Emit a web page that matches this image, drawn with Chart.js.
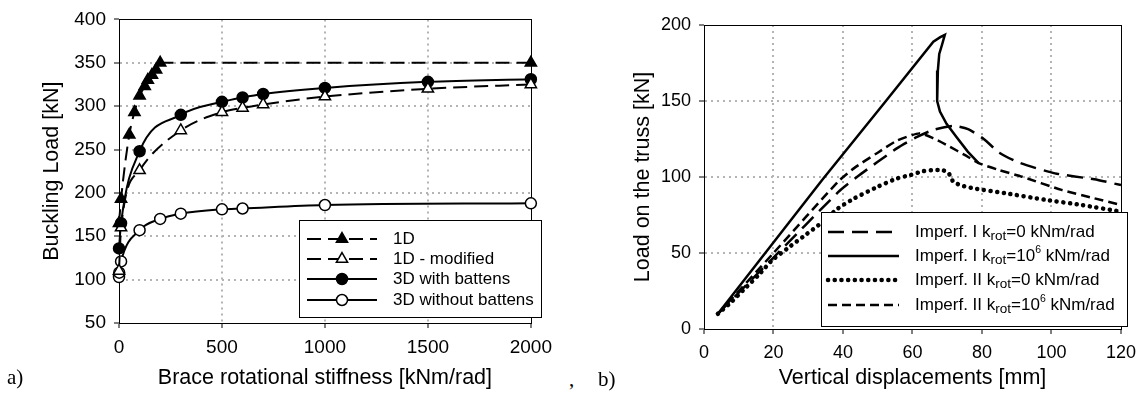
<!DOCTYPE html>
<html>
<head>
<meta charset="utf-8">
<script src="https://cdn.jsdelivr.net/npm/chart.js@4/dist/chart.umd.min.js"></script>
<style>
  html, body { margin: 0; padding: 0; background: #fff; }
  #wrap { position: relative; width: 1144px; height: 401px; overflow: hidden; }
  canvas { position: absolute; top: 0; }
  #cA { left: 0; }
  #cB { left: 580px; }
  .lbl { position: absolute; font-family: "Liberation Serif", "Times New Roman", serif; font-size: 21px; color: #000; line-height: 1; }
</style>
</head>
<body>
<div id="wrap">
  <canvas id="cA" width="560" height="401" style="width:560px;height:401px"></canvas>
  <canvas id="cB" width="564" height="401" style="width:564px;height:401px"></canvas>
  <div class="lbl" style="left:7px;top:367px">a)</div>
  <div class="lbl" style="left:569px;top:369px">,</div>
  <div class="lbl" style="left:598px;top:369px">b)</div>
</div>
<script>
/* ==========================================
   DATA — a) buckling load vs brace stiffness
   ========================================== */
const k1D         = [0, 10, 50, 75, 100, 125, 140, 160, 180, 200, 2000];
const load1D      = [165, 193, 267, 293, 312, 323, 330, 336, 342, 350, 350];
const k1Dmod      = [0, 10, 100, 300, 500, 600, 700, 1000, 1500, 2000];
const load1Dmod   = [110, 160, 226, 272, 293, 298, 302, 311, 320, 325];
const k3Dbat      = [0, 10, 100, 300, 500, 600, 700, 1000, 1500, 2000];
const load3Dbat   = [136, 165, 248, 290, 305, 310, 314, 321, 328, 331];
const k3Dnobat    = [0, 1, 10, 100, 200, 300, 500, 600, 1000, 2000];
const load3Dnobat = [103, 108, 121, 157, 170, 176, 181, 182, 186, 188];

/* ==========================================
   DATA — b) load vs vertical displacement
   ========================================== */
const dispIk0   = [4, 20, 38.6, 44, 50, 55.6, 61, 66, 72, 76, 80.5, 85, 90.6, 101, 112.3, 120];
const loadIk0   = [10, 47, 90, 100, 110, 119, 126, 131, 133.6, 131.5, 125, 116, 109.5, 102.4, 98.5, 94.7];
const dispIk6   = [4, 34, 52, 66, 68, 69.3, 68.5, 67.7, 67.3, 67.1, 67.1, 67.9, 69.8, 72.6, 75.9, 79.1];
const loadIk6   = [10, 98, 149, 189, 192, 193.5, 187, 181, 170, 160, 150, 143, 135, 126.5, 116.7, 109];
const dispIIk0  = [4, 8, 11.5, 15.7, 19.5, 24, 28.5, 33, 38.6, 43.3, 50, 55.6, 59.4, 63, 66, 68.5, 70.3, 71.7, 74, 77.4, 86.8, 98.2, 108.6, 120];
const loadIIk0  = [10, 18, 26, 35.5, 45, 53, 60.7, 68.4, 79.4, 86, 93.6, 99.1, 101.3, 103.8, 104.6, 104.5, 102.9, 97, 94.5, 92.6, 89.3, 85, 81.6, 77.2];
const dispIIk6  = [4, 20, 38.6, 43.3, 50, 55.6, 62, 66, 70.7, 75, 79.2, 85, 91.5, 102.9, 112.3, 120];
const loadIIk6  = [10, 50, 97, 106, 116, 124, 128.7, 125.5, 120, 114.5, 109, 104.5, 100.2, 91.5, 86, 81.6];

/* ==========================================
   HELPERS
   ========================================== */
const FONT = '"Liberation Sans", Arial, sans-serif';
Chart.defaults.font.family = FONT;
Chart.defaults.color = '#000';

const pts = (xs, ys) => xs.map((x, i) => ({ x, y: ys[i] }));

function axis(min, max, step, title, titlePad, fixedSize, isX, tickSize) {
  return {
    type: 'linear',
    min, max,
    ticks: { stepSize: step, font: { size: tickSize }, padding: 8, color: '#000', callback: v => String(v) },
    grid: {
      color: ctx => (ctx.tick && (ctx.tick.value === min || ctx.tick.value === max)) ? 'rgba(0,0,0,0)' : '#b4b4b4',
      lineWidth: 2,
      tickColor: '#000',
      tickLength: 5,
      tickWidth: 1,
      tickBorderDash: [1, 0]
    },
    border: { display: true, color: '#000', width: 1, dash: [2, 4] },
    title: { display: true, text: title, font: { size: 21.5 }, color: '#000', padding: titlePad },
    afterFit: s => { if (isX) s.height = fixedSize; else s.width = fixedSize; }
  };
}

// black frame round the plot area
const framePlugin = {
  id: 'frame',
  beforeDatasetsDraw(chart) {
    const { ctx, chartArea: a } = chart;
    ctx.save();
    ctx.strokeStyle = '#000';
    ctx.lineWidth = 1;
    ctx.strokeRect(Math.round(a.left) + 0.5, Math.round(a.top) + 0.5,
                   Math.round(a.right - a.left), Math.round(a.bottom - a.top));
    ctx.restore();
  }
};

// boxed legend drawn with the dataset styles
const boxLegend = {
  id: 'boxLegend',
  afterDraw(chart, args, o) {
    const { ctx } = chart;
    ctx.save();
    ctx.fillStyle = '#fff';
    ctx.fillRect(o.x, o.y, o.w, o.h);
    ctx.strokeStyle = '#000';
    ctx.lineWidth = 1;
    ctx.strokeRect(o.x + 0.5, o.y + 0.5, o.w, o.h);
    o.rows.forEach(row => {
      const ds = chart.data.datasets[row.ds];
      ctx.save();
      ctx.setLineDash(ds.borderDash || []);
      ctx.lineCap = ds.borderCapStyle || 'butt';
      ctx.lineWidth = ds.borderWidth;
      ctx.strokeStyle = ds.borderColor;
      ctx.beginPath();
      ctx.moveTo(o.lineX0, row.y);
      ctx.lineTo(o.lineX1, row.y);
      ctx.stroke();
      ctx.restore();
      if (ds.pointRadius) {
        ctx.save();
        ctx.setLineDash([]);
        ctx.fillStyle = ds.pointBackgroundColor;
        ctx.strokeStyle = ds.pointBorderColor;
        ctx.lineWidth = ds.pointBorderWidth;
        Chart.helpers.drawPoint(ctx, { pointStyle: ds.pointStyle, radius: ds.pointRadius, borderWidth: ds.pointBorderWidth, rotation: 0 },
          (o.lineX0 + o.lineX1) / 2, row.y);
        ctx.restore();
      }
      let tx = o.textX;
      ctx.fillStyle = '#000';
      ctx.textBaseline = 'middle';
      ctx.textAlign = 'left';
      row.text.forEach(seg => {
        const size = seg.sub ? 13.5 : seg.sup ? 10.5 : o.fontSize;
        const dy = seg.sub ? 4.5 : seg.sup ? -6 : 0;
        ctx.font = `${size}px ${FONT}`;
        ctx.fillText(seg.t, tx, row.y + dy);
        tx += ctx.measureText(seg.t).width;
      });
    });
    ctx.restore();
  }
};

/* ==========================================
   CHART a)
   ========================================== */
const lineA = { borderColor: '#000', borderWidth: 2, showLine: true, cubicInterpolationMode: 'monotone', pointBorderColor: '#000', pointBorderWidth: 1.5, clip: false };

new Chart(document.getElementById('cA'), {
  type: 'scatter',
  data: {
    datasets: [
      { ...lineA, label: '1D', data: pts(k1D, load1D), borderDash: [14, 7],
        pointStyle: 'triangle', pointRadius: 6.5, pointBackgroundColor: '#000' },
      { ...lineA, label: '1D - modified', data: pts(k1Dmod, load1Dmod), borderDash: [14, 7],
        pointStyle: 'triangle', pointRadius: 6.5, pointBackgroundColor: '#fff' },
      { ...lineA, label: '3D with battens', data: pts(k3Dbat, load3Dbat),
        pointStyle: 'circle', pointRadius: 5.5, pointBackgroundColor: '#000' },
      { ...lineA, label: '3D without battens', data: pts(k3Dnobat, load3Dnobat),
        pointStyle: 'circle', pointRadius: 5.5, pointBackgroundColor: '#fff' }
    ]
  },
  options: {
    responsive: false,
    animation: false,
    layout: { padding: { left: 0, top: 15, right: 17, bottom: 0 } },
    plugins: {
      legend: { display: false },
      tooltip: { enabled: false },
      boxLegend: {
        x: 299, y: 220, w: 242, h: 97, lineX0: 307, lineX1: 377, textX: 393, fontSize: 17,
        rows: [
          { ds: 0, y: 239, text: [{ t: '1D' }] },
          { ds: 1, y: 259, text: [{ t: '1D - modified' }] },
          { ds: 2, y: 279, text: [{ t: '3D with battens' }] },
          { ds: 3, y: 300, text: [{ t: '3D without battens' }] }
        ]
      }
    },
    scales: {
      x: axis(0, 2000, 500, 'Brace rotational stiffness [kNm/rad]', { top: 0, bottom: 10 }, 78, true, 19),
      y: axis(50, 400, 50, 'Buckling Load [kN]', { top: 39, bottom: 0 }, 119, false, 19)
    }
  },
  plugins: [framePlugin, boxLegend]
});

/* ==========================================
   CHART b)
   ========================================== */
const lineB = { borderColor: '#000', borderWidth: 2.5, showLine: true, pointRadius: 0, tension: 0.2, clip: 4 };

new Chart(document.getElementById('cB'), {
  type: 'scatter',
  data: {
    datasets: [
      { ...lineB, label: 'Imperf. I krot=0 kNm/rad', data: pts(dispIk0, loadIk0), borderDash: [16, 8] },
      { ...lineB, label: 'Imperf. I krot=10^6 kNm/rad', data: pts(dispIk6, loadIk6), tension: 0 },
      { ...lineB, label: 'Imperf. II krot=0 kNm/rad', data: pts(dispIIk0, loadIIk0), borderWidth: 4.5,
        borderDash: [0.1, 6.6], borderCapStyle: 'round' },
      { ...lineB, label: 'Imperf. II krot=10^6 kNm/rad', data: pts(dispIIk6, loadIIk6), borderDash: [9, 5] }
    ]
  },
  options: {
    responsive: false,
    animation: false,
    layout: { padding: { left: 0, top: 25, right: 17, bottom: 0 } },
    plugins: {
      legend: { display: false },
      tooltip: { enabled: false },
      boxLegend: {
        x: 241, y: 212, w: 306, h: 114, lineX0: 248, lineX1: 319, textX: 335, fontSize: 17,
        rows: [
          { ds: 0, y: 232, text: [{ t: 'Imperf. I k' }, { t: 'rot', sub: true }, { t: '=0 kNm/rad' }] },
          { ds: 1, y: 256, text: [{ t: 'Imperf. I k' }, { t: 'rot', sub: true }, { t: '=10' }, { t: '6', sup: true }, { t: ' kNm/rad' }] },
          { ds: 2, y: 280, text: [{ t: 'Imperf. II k' }, { t: 'rot', sub: true }, { t: '=0 kNm/rad' }] },
          { ds: 3, y: 305, text: [{ t: 'Imperf. II k' }, { t: 'rot', sub: true }, { t: '=10' }, { t: '6', sup: true }, { t: ' kNm/rad' }] }
        ]
      }
    },
    scales: {
      x: axis(0, 120, 20, 'Vertical displacements [mm]', { top: 0, bottom: 10 }, 72, true, 18),
      y: axis(0, 200, 50, 'Load on the truss [kN]', { top: 50, bottom: 0 }, 124, false, 18)
    }
  },
  plugins: [framePlugin, boxLegend]
});
</script>
</body>
</html>
